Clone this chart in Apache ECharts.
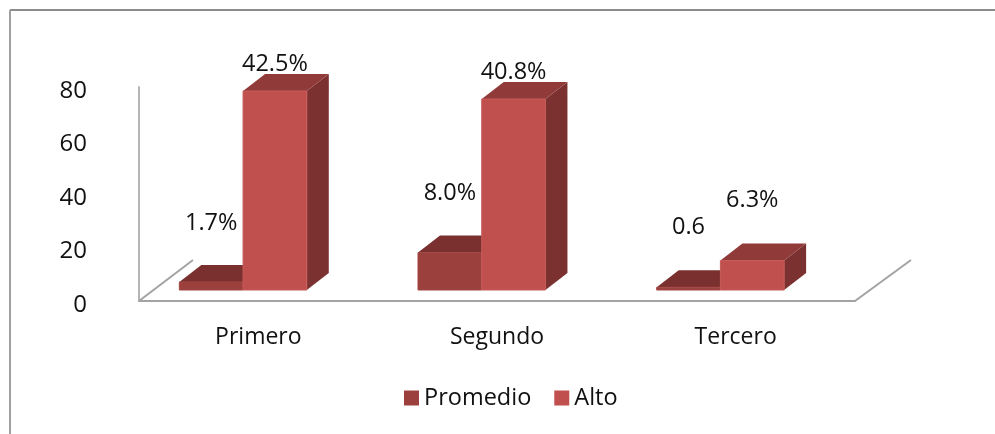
<!DOCTYPE html>
<html>
<head>
<meta charset="utf-8">
<style>html,body{margin:0;padding:0;background:#fff}#c{width:995px;height:434px}</style>
<script src="https://cdn.jsdelivr.net/npm/echarts@6/dist/echarts.min.js"></script>
</head>
<body>
<div id="c"></div>
<script>
var categories = ['Primero', 'Segundo', 'Tercero'];
var promedio = [3, 14, 1];
var alto = [74.4, 71.4, 11];
var promedioLabels = ['1.7%', '8.0%', '0.6'];
var altoLabels = ['42.5%', '40.8%', '6.3%'];
var yTicks = { min: 0, max: 80, interval: 20 };

var FONT = '"Open Sans", "Noto Sans", sans-serif';
var DEPTH_X = 22, DEPTH_Y = -17, LIFT = 11;

function bars(fracLeft, fracWidth, colors, labels, gaps) {
  return function (params, api) {
    var i = api.value(0);
    var band = api.size([1, 0])[0];
    var base = api.coord([i, 0]);
    var topPt = api.coord([i, api.value(1)]);
    var x0 = base[0] + band * fracLeft;
    var x1 = x0 + band * fracWidth;
    var yb = base[1] - LIFT;
    var yt = topPt[1] - LIFT;
    var edge = { stroke: colors.edge, lineWidth: 1 };
    return {
      type: 'group',
      children: [
        { type: 'polygon', shape: { points: [[x1, yb], [x1 + DEPTH_X, yb + DEPTH_Y], [x1 + DEPTH_X, yt + DEPTH_Y], [x1, yt]] },
          style: { fill: colors.side } },
        { type: 'polygon', shape: { points: [[x0, yt], [x1, yt], [x1 + DEPTH_X, yt + DEPTH_Y], [x0 + DEPTH_X, yt + DEPTH_Y]] },
          style: { fill: colors.top } },
        { type: 'rect', shape: { x: x0, y: yt, width: x1 - x0, height: yb - yt },
          style: Object.assign({ fill: colors.front }, edge) },
        { type: 'text', z2: 10, style: { x: (x0 + x1) / 2, y: yt - gaps[i], text: labels[i],
          textAlign: 'center', textVerticalAlign: 'middle', font: '23.5px ' + FONT, fill: '#111' } }
      ]
    };
  };
}

function floorLines(params, api) {
  var c = params.coordSys;
  var yB = c.y + c.height, xL = c.x, xR = c.x + c.width;
  var st = { stroke: '#a3a3a3', lineWidth: 2, fill: 'none' };
  return {
    type: 'group',
    children: [
      { type: 'line', shape: { x1: xL, y1: yB, x2: xL + 54, y2: yB - 41 }, style: st },
      { type: 'line', shape: { x1: xR, y1: yB, x2: xR + 56, y2: yB - 41 }, style: st }
    ]
  };
}

var chart = echarts.init(document.getElementById('c'), null, { renderer: 'canvas' });
chart.setOption({
  animation: false,
  backgroundColor: '#fff',
  grid: { left: 139, top: 87, width: 716, height: 214, containLabel: false },
  legend: {
    data: ['Promedio', 'Alto'], left: 399, top: 381, icon: 'rect',
    itemWidth: 15, itemHeight: 15, itemGap: 23,
    textStyle: { fontFamily: FONT, fontSize: 23.5, color: '#111' }
  },
  xAxis: {
    type: 'category', data: categories,
    axisLine: { show: true, lineStyle: { color: '#a3a3a3', width: 2 } },
    axisTick: { show: false },
    axisLabel: { fontFamily: FONT, fontSize: 23, color: '#111', margin: 25 }
  },
  yAxis: {
    type: 'value', min: yTicks.min, max: yTicks.max, interval: yTicks.interval,
    splitLine: { show: false },
    axisLine: { show: true, lineStyle: { color: '#b5b5b5', width: 2 } },
    axisTick: { show: false },
    axisLabel: { fontFamily: FONT, fontSize: 24, color: '#111', margin: 52, lineHeight: 8, height: 8, verticalAlign: 'top' }
  },
  graphic: [
    { type: 'line', shape: { x1: 10, y1: 10, x2: 995, y2: 10 }, style: { stroke: '#8c8c8c', lineWidth: 2 } },
    { type: 'line', shape: { x1: 10, y1: 10, x2: 10, y2: 434 }, style: { stroke: '#a0a0a0', lineWidth: 2 } }
  ],
  series: [
    { type: 'custom', name: 'floor', silent: true, renderItem: floorLines, data: [[0, 0]], z: 1 },
    { type: 'custom', name: 'Promedio', z: 2,
      itemStyle: { color: '#9C403E' },
      renderItem: bars(-0.331, 0.267, { front: '#9C403E', top: '#7A302F', side: '#7A302F', edge: '#A24745' }, promedioLabels, [59, 59, 60]),
      encode: { x: 0, y: 1 },
      data: promedio.map(function (v, i) { return [i, v]; }) },
    { type: 'custom', name: 'Alto', z: 3,
      itemStyle: { color: '#C0504D' },
      renderItem: bars(-0.064, 0.267, { front: '#C0504D', top: '#903B39', side: '#7B3130', edge: '#C65C59' }, altoLabels, [27, 27, 60]),
      encode: { x: 0, y: 1 },
      data: alto.map(function (v, i) { return [i, v]; }) }
  ]
});
</script>
</body>
</html>
